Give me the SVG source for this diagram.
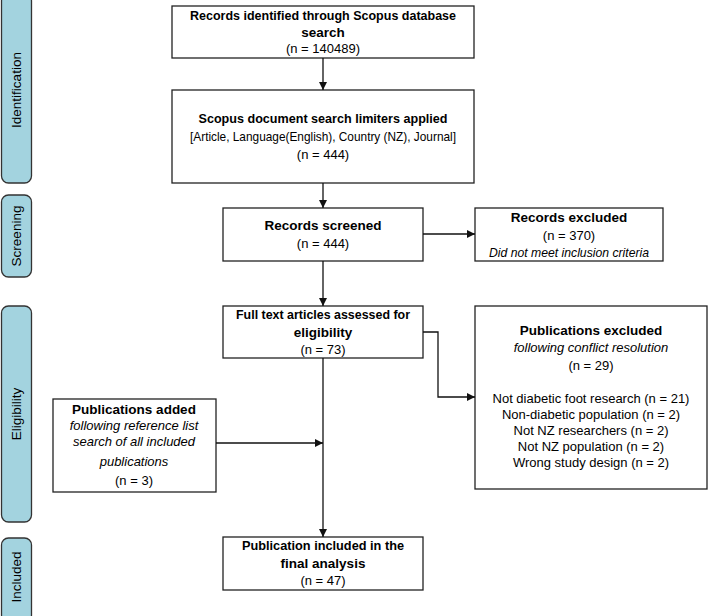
<svg xmlns="http://www.w3.org/2000/svg" width="709" height="616" viewBox="0 0 709 616">
<style>
.box{fill:#fff;stroke:#222;stroke-width:1.3}
.bar{fill:#a3d3df;stroke:#333;stroke-width:1.3}
.t{font-family:"Liberation Sans",Arial,sans-serif;font-size:13px;fill:#000;text-anchor:middle}
.b{font-weight:bold;font-size:13.5px}
.i{font-style:italic}
.bt{font-family:"Liberation Sans",Arial,sans-serif;font-size:13.5px;fill:#000;text-anchor:middle}
.ln{fill:none;stroke:#111;stroke-width:1.3}
</style>
<defs>
<marker id="ah" viewBox="0 0 10 10" refX="10" refY="5" markerWidth="8" markerHeight="8" markerUnits="userSpaceOnUse" orient="auto">
<path d="M0,0 L10,5 L0,10 Z" fill="#111"/>
</marker>
</defs>
<g id="bar-identification">
<rect class="bar" x="1.5" y="-6" width="30" height="189" rx="7"/>
<text class="bt" transform="translate(21,90) rotate(-90)">Identification</text>
</g>
<g id="bar-screening">
<rect class="bar" x="1.5" y="195" width="30" height="82" rx="7"/>
<text class="bt" transform="translate(21,236) rotate(-90)">Screening</text>
</g>
<g id="bar-eligibility">
<rect class="bar" x="1.5" y="306" width="30" height="216" rx="7"/>
<text class="bt" transform="translate(21,414) rotate(-90)">Eligibility</text>
</g>
<g id="bar-included">
<rect class="bar" x="1.5" y="538" width="30" height="84" rx="7"/>
<text class="bt" transform="translate(21,577) rotate(-90)">Included</text>
</g>
<g id="n-identified">
<rect class="box" x="172" y="6" width="302" height="52"/>
<text class="t b" x="323" y="20" textLength="266" lengthAdjust="spacingAndGlyphs">Records identified through Scopus database</text>
<text class="t b" x="323" y="37">search</text>
<text class="t" x="323" y="53">(n = 140489)</text>
</g>
<g id="n-limiters">
<rect class="box" x="172" y="90" width="302" height="93"/>
<text class="t b" x="323" y="123" textLength="249" lengthAdjust="spacingAndGlyphs">Scopus document search limiters applied</text>
<text class="t" x="323" y="141" textLength="266" lengthAdjust="spacingAndGlyphs">[Article, Language(English), Country (NZ), Journal]</text>
<text class="t" x="323" y="159">(n = 444)</text>
</g>
<g id="n-screened">
<rect class="box" x="223" y="208" width="200" height="53"/>
<text class="t b" x="323" y="230">Records screened</text>
<text class="t" x="323" y="248">(n = 444)</text>
</g>
<g id="n-excluded">
<rect class="box" x="475" y="208" width="188" height="53"/>
<text class="t b" x="569" y="222">Records excluded</text>
<text class="t" x="569" y="240">(n = 370)</text>
<text class="t i" x="569" y="257" textLength="160" lengthAdjust="spacingAndGlyphs">Did not meet inclusion criteria</text>
</g>
<g id="n-fulltext">
<rect class="box" x="223" y="306" width="200" height="52"/>
<text class="t b" x="323" y="319" textLength="174" lengthAdjust="spacingAndGlyphs">Full text articles assessed for</text>
<text class="t b" x="323" y="337">eligibility</text>
<text class="t" x="323" y="354">(n = 73)</text>
</g>
<g id="n-pubexcluded">
<rect class="box" x="475" y="306" width="232" height="183"/>
<text class="t b" x="591" y="335">Publications excluded</text>
<text class="t i" x="591" y="352">following conflict resolution</text>
<text class="t" x="591" y="370">(n = 29)</text>
<text class="t" x="591" y="403">Not diabetic foot research (n = 21)</text>
<text class="t" x="591" y="419">Non-diabetic population (n = 2)</text>
<text class="t" x="591" y="435">Not NZ researchers (n = 2)</text>
<text class="t" x="591" y="451">Not NZ population (n = 2)</text>
<text class="t" x="591" y="467">Wrong study design (n = 2)</text>
</g>
<g id="n-pubadded">
<rect class="box" x="53" y="399" width="163" height="93"/>
<text class="t b" x="134" y="414">Publications added</text>
<text class="t i" x="134" y="430">following reference list</text>
<text class="t i" x="134" y="446">search of all included</text>
<text class="t i" x="134" y="466">publications</text>
<text class="t" x="134" y="485">(n = 3)</text>
</g>
<g id="n-included">
<rect class="box" x="223" y="537" width="200" height="53"/>
<text class="t b" x="323" y="550" textLength="162" lengthAdjust="spacingAndGlyphs">Publication included in the</text>
<text class="t b" x="323" y="568">final analysis</text>
<text class="t" x="323" y="585">(n = 47)</text>
</g>
<g id="connectors">
<line class="ln" x1="323" y1="58" x2="323" y2="90" marker-end="url(#ah)"/>
<line class="ln" x1="323" y1="183" x2="323" y2="208" marker-end="url(#ah)"/>
<line class="ln" x1="423" y1="234" x2="475" y2="234" marker-end="url(#ah)"/>
<line class="ln" x1="323" y1="261" x2="323" y2="306" marker-end="url(#ah)"/>
<polyline class="ln" points="423,332 438,332 438,397 475,397" marker-end="url(#ah)"/>
<line class="ln" x1="216" y1="443" x2="323" y2="443" marker-end="url(#ah)"/>
<line class="ln" x1="323" y1="358" x2="323" y2="537" marker-end="url(#ah)"/>
</g>
</svg>
